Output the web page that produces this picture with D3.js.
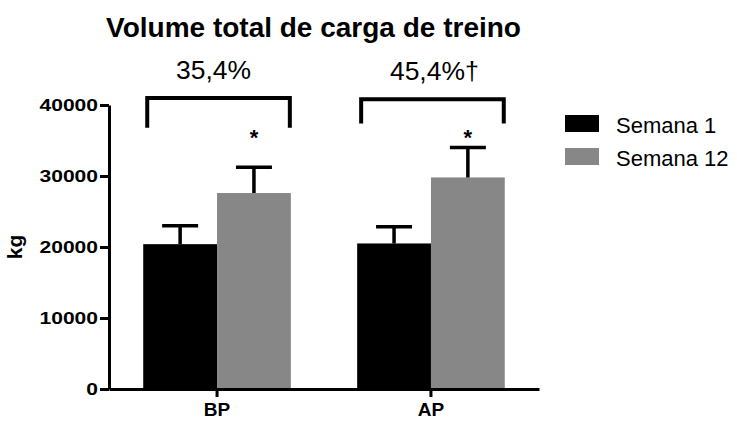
<!DOCTYPE html>
<html>
<head>
<meta charset="utf-8">
<script src="https://cdn.jsdelivr.net/npm/d3@7"></script>
<style>
  body { margin: 0; background: #fff; }
  svg { font-family: "Liberation Sans", Arial, sans-serif; }
</style>
</head>
<body>
<div id="chart"></div>
<script>
// Data
const categories = ["BP", "AP"];
const seriesNames = ["Semana 1", "Semana 12"];
const semana1 = [20400, 20500];
const semana1Err = [2600, 2350];
const semana12 = [27600, 29800];
const semana12Err = [3650, 4200];
const yTicks = [0, 10000, 20000, 30000, 40000];
const pctLabels = ["35,4%", "45,4%"];
const pctMarks = ["", "†"];
const bracketTop = [41000, 40800];
const bracketLeg = [36800, 37400];
const starLevel = [34400, 34400];
const colors = ["#000000", "#878787"];

const W = 737, H = 421;
const AX_LEFT = 109, AX_RIGHT = 539, Y0 = 389, Y40 = 105;

const svg = d3.select("#chart").append("svg")
  .attr("width", W).attr("height", H);

// Scales
const x = d3.scaleBand().domain(categories).range([AX_LEFT, AX_RIGHT])
  .paddingInner(0.31).paddingOuter(0.16);
const x1 = d3.scaleBand().domain(seriesNames).range([0, x.bandwidth()]).padding(0);
const y = d3.scaleLinear().domain([0, 40000]).range([Y0, Y40]);

// Title
svg.append("text")
  .attr("x", 313.5).attr("y", 37)
  .attr("text-anchor", "middle")
  .attr("font-size", 28).attr("font-weight", "bold")
  .text("Volume total de carga de treino");

// Y label
svg.append("text")
  .attr("transform", "translate(22,247) rotate(-90)")
  .attr("text-anchor", "middle")
  .attr("font-size", 21).attr("font-weight", "bold")
  .text("kg");

// Bars
const rows = categories.map((c, i) => ({
  cat: c,
  vals: [
    { s: seriesNames[0], v: semana1[i], e: semana1Err[i], c: colors[0] },
    { s: seriesNames[1], v: semana12[i], e: semana12Err[i], c: colors[1] }
  ]
}));

const groups = svg.selectAll("g.grp").data(rows).enter()
  .append("g").attr("class", "grp")
  .attr("transform", d => "translate(" + x(d.cat) + ",0)");

groups.selectAll("rect").data(d => d.vals).enter()
  .append("rect")
  .attr("x", d => x1(d.s))
  .attr("y", d => y(d.v))
  .attr("width", x1.bandwidth())
  .attr("height", d => Y0 - y(d.v))
  .attr("fill", d => d.c);

// Error bars (upper only)
const capW = 36;
groups.selectAll("path.err").data(d => d.vals).enter()
  .append("path").attr("class", "err")
  .attr("d", d => {
    const cx = x1(d.s) + x1.bandwidth() / 2;
    return "M" + cx + "," + y(d.v) + "V" + y(d.v + d.e) +
      "M" + (cx - capW / 2) + "," + y(d.v + d.e) + "H" + (cx + capW / 2);
  })
  .attr("fill", "none").attr("stroke", "#000").attr("stroke-width", 3.5);

// Axes
const yAxis = d3.axisLeft(y).tickValues(yTicks).tickFormat(d3.format("d"))
  .tickSize(9).tickSizeOuter(0).tickPadding(2);
const gy = svg.append("g").attr("transform", "translate(" + AX_LEFT + ",0)").call(yAxis);
gy.selectAll("text")
  .attr("font-size", 17).attr("font-weight", "bold").attr("font-family", "Liberation Sans, Arial, sans-serif")
  .attr("fill", "#000")
  .attr("textLength", d => String(d).length * 11.7)
  .attr("lengthAdjust", "spacingAndGlyphs");

const xAxis = d3.axisBottom(x).tickSize(8).tickSizeOuter(0).tickPadding(6);
const gx = svg.append("g").attr("transform", "translate(0," + Y0 + ")").call(xAxis);
gx.selectAll("text")
  .attr("font-size", 19).attr("font-weight", "bold").attr("font-family", "Liberation Sans, Arial, sans-serif")
  .attr("fill", "#000");

[gx, gy].forEach(g => {
  g.select(".domain").attr("stroke", "#000").attr("stroke-width", 3);
  g.selectAll(".tick line").attr("stroke", "#000").attr("stroke-width", 3);
});

// Brackets, percentages and stars
categories.forEach((c, i) => {
  const left = x(c) + 4, right = x(c) + x.bandwidth() - 1;
  svg.append("path")
    .attr("d", "M" + left + "," + y(bracketLeg[i]) + "V" + y(bracketTop[i]) +
      "H" + right + "V" + y(bracketLeg[i]))
    .attr("fill", "none").attr("stroke", "#000").attr("stroke-width", 4);

  const mid = (left + right) / 2 - 5;
  const t = svg.append("text")
    .attr("y", y(bracketTop[i]) - 19)
    .attr("font-size", 25);
  t.append("tspan")
    .attr("textLength", 75).attr("lengthAdjust", "spacingAndGlyphs")
    .text(pctLabels[i]);
  t.attr("x", mid - 37.5);
  if (pctMarks[i]) t.append("tspan").text(pctMarks[i]);

  const gx12 = x(c) + x1(seriesNames[1]) + x1.bandwidth() / 2;
  svg.append("text")
    .attr("x", gx12).attr("y", y(starLevel[i]))
    .attr("text-anchor", "middle")
    .attr("font-size", 22).attr("font-weight", "bold")
    .text("*");
});

// Legend
const legend = svg.selectAll("g.leg").data(seriesNames).enter()
  .append("g").attr("class", "leg")
  .attr("transform", (d, i) => "translate(565," + (115 + i * 33) + ")");
legend.append("rect").attr("width", 34).attr("height", 17)
  .attr("fill", (d, i) => colors[i]);
legend.append("text").attr("x", 51).attr("y", 18)
  .attr("font-size", 22).text(d => d);
</script>
</body>
</html>
